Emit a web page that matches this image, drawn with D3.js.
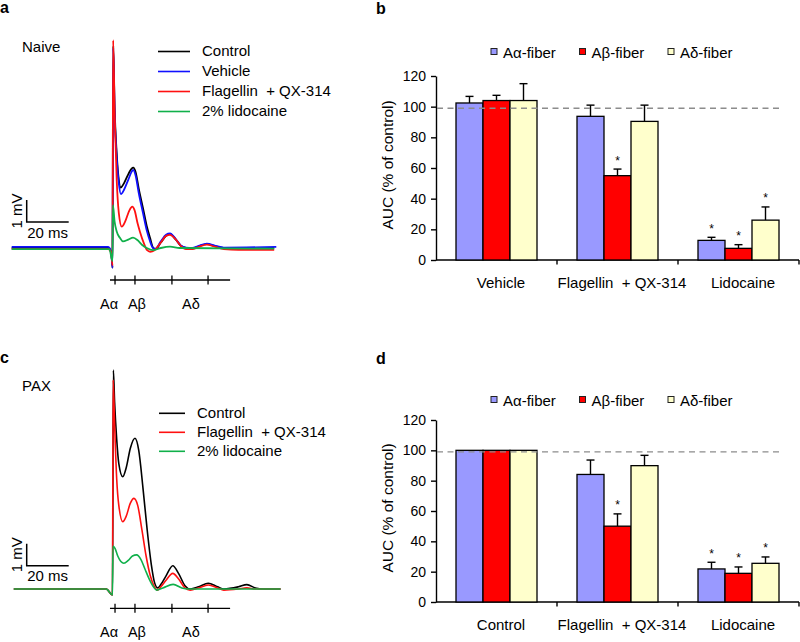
<!DOCTYPE html>
<html>
<head>
<meta charset="utf-8">
<script src="https://cdn.jsdelivr.net/npm/d3@7"></script>
<style>
  body { margin: 0; background: #fff; }
  svg { display: block; font-family: "Liberation Sans", Arial, sans-serif; }
  svg text { white-space: pre; }
</style>
</head>
<body>
<svg id="fig" width="800" height="642"></svg>
<script>
// ---------------- DATA ----------------
// Compound action potential traces: [time (ms from stimulus), amplitude (mV)]
const naiveControl = [[-48,0],[-2,0],[-0.6,-0.2],[0,-0.9],[0.35,9.2],[1,6.4],[2,4.3],[3,3.1],[3.9,2.75],[5.5,2.95],[7.5,3.35],[9,3.6],[9.9,3.65],[11,3.45],[12.5,2.7],[14.5,1.82],[16.3,1.0],[17.9,0.45],[19.3,0.02],[20.5,-0.05],[23,0.25],[25.5,0.55],[27.4,0.64],[30,0.4],[32.5,0.1],[35,0],[38,-0.02],[41,0.08],[44.9,0.18],[49,0.08],[53,0],[77,0]];
const naiveVehicle = [[-48,0.05],[-2,0.05],[-0.6,-0.2],[0,-0.9],[0.35,9.1],[1,6.2],[2,4.1],[3,2.95],[4,2.45],[5.5,2.65],[7.5,3.1],[9,3.45],[9.8,3.55],[11,3.3],[12.5,2.5],[14.5,1.6],[16.3,0.8],[17.9,0.3],[19.3,0],[20.5,-0.03],[23,0.3],[25.5,0.6],[27.4,0.66],[30,0.42],[32.5,0.12],[35,0.02],[38,0],[41,0.1],[44.9,0.2],[49,0.1],[53,0.02],[78,0.05]];
const naiveFlagellin = [[-48,-0.05],[-2,-0.05],[-0.6,-0.2],[0,-0.8],[0.3,9.45],[1,6.2],[2,3.1],[3,1.6],[4.4,0.97],[6,1.2],[8,1.7],[9.4,1.88],[10.5,1.72],[12,1.1],[13.1,0.73],[15,0.2],[16.5,-0.1],[17.9,-0.17],[20,-0.1],[23,0.25],[25.5,0.55],[27.4,0.6],[30,0.4],[32.5,0.1],[35,-0.05],[38,-0.05],[41,0.05],[45,0.15],[49,0.05],[53,-0.05],[60,-0.08],[77,-0.08]];
const naiveLidocaine = [[-48,-0.05],[-1.5,-0.05],[0,-0.6],[0.2,1.95],[1,1.2],[2,0.75],[3.6,0.45],[5,0.3],[7.5,0.38],[9.8,0.47],[12,0.35],[14,0.15],[16.3,0],[19.3,-0.1],[23,0],[27.4,0.06],[32,0],[77,-0.03]];

const paxControl = [[-47,0],[-3,0],[0,-0.27],[0.4,9.95],[1,8.5],[2,6.8],[3,5.7],[4.9,5.1],[6.5,5.5],[8.5,6.4],[10.7,6.85],[12.5,6.3],[14.5,4.6],[16.5,2.7],[18.5,1.1],[20,0.3],[21.5,0.05],[23,0.2],[25.5,0.6],[28.7,1.06],[31.5,0.7],[34.5,0.15],[37,0],[41,0.1],[45.6,0.26],[50,0.1],[53,0],[60,0.1],[64,0.2],[68,0.05],[72,0],[80,0]];
const paxFlagellin = [[-47,0],[-3,0],[0,-0.27],[0.3,9.5],[1,7.5],[2,5],[3,3.8],[4.9,3.06],[6.5,3.3],[8.5,3.9],[10.2,4.12],[12,3.8],[14,2.7],[16,1.5],[18,0.6],[20,0.1],[21.5,-0.05],[23,0.1],[25.5,0.4],[28.7,0.71],[31.5,0.45],[34.5,0.05],[37,-0.05],[41,0.05],[45.6,0.18],[50,0.05],[53,-0.05],[60,0],[64,0.05],[68,0],[80,0]];
const paxLidocaine = [[-47,0],[-3,0],[0,-0.27],[0.2,1.95],[1.2,1.85],[2.5,1.5],[4,1.25],[5.4,1.17],[7.5,1.3],[9.5,1.5],[11.5,1.55],[13.5,1.35],[15.5,0.9],[17.5,0.45],[19.5,0.1],[21,-0.05],[24,0.05],[28.9,0.21],[33,0.05],[36,0],[80,0]];

const naiveLegend = ["Control", "Vehicle", "Flagellin  + QX-314", "2% lidocaine"];
const paxLegend = ["Control", "Flagellin  + QX-314", "2% lidocaine"];
const fiberMarks = [1.2, 10.7, 28.3, 45.5];           // ms
const fiberLabels = ["Aα", "Aβ", "Aδ"];

// Bar charts
const fibers = ["Aα-fiber", "Aβ-fiber", "Aδ-fiber"];
const yTicks = [0, 20, 40, 60, 80, 100, 120];
const bCategories = ["Vehicle", "Flagellin  + QX-314", "Lidocaine"];
const bAlpha = [102.4, 93.7, 12.8];
const bBeta = [104, 55, 7.6];
const bDelta = [104, 90.4, 26];
const bAlphaErr = [4.3, 7.3, 2.0];
const bBetaErr = [3.4, 4.3, 2.4];
const bDeltaErr = [11, 10.6, 8.6];
const bAlphaSig = [0, 0, 1];
const bBetaSig = [0, 1, 1];
const bDeltaSig = [0, 0, 1];

const dCategories = ["Control", "Flagellin  + QX-314", "Lidocaine"];
const dAlpha = [100, 84.1, 21.8];
const dBeta = [100, 50, 18.9];
const dDelta = [100, 89.9, 25.5];
const dAlphaErr = [0, 9.5, 4.4];
const dBetaErr = [0, 8.1, 4.2];
const dDeltaErr = [0, 6.8, 4.2];
const dAlphaSig = [0, 0, 1];
const dBetaSig = [0, 1, 1];
const dDeltaSig = [0, 0, 1];
const controlLevel = 99;

// ---------------- STYLE ----------------
const traceColors = { Control: "#000000", Vehicle: "#1010ff", Flag: "#ff1010", Lido: "#10b04a" };
const fiberColors = ["#9999ff", "#ff0000", "#ffffcc"];

const svg = d3.select("#fig");

// panel letters
[["a", 0, 13], ["b", 376, 14], ["c", 0, 363], ["d", 376, 364]].forEach(([t, x, y]) => {
  svg.append("text").attr("x", x).attr("y", y).attr("font-size", 16).attr("font-weight", "bold").text(t);
});

// ---------------- TRACE PANELS ----------------
function tracePanel(opts) {
  const g = svg.append("g");
  const x = d3.scaleLinear().domain([0, 20]).range([112.5, 154.5]);
  const y = d3.scaleLinear().domain([0, 1]).range([opts.base, opts.base - 22]);
  const line = d3.line().x(d => x(d[0])).y(d => y(d[1])).curve(d3.curveMonotoneX);

  opts.traces.forEach(tr => {
    g.append("path").datum(tr.data).attr("d", line)
      .attr("fill", "none").attr("stroke", tr.color).attr("stroke-width", opts.lw)
      .attr("stroke-linejoin", "round");
  });

  // title
  g.append("text").attr("x", 22).attr("y", opts.titleY).attr("font-size", 15).text(opts.title);

  // legend
  opts.traces.forEach((tr, i) => {
    const ly = opts.legY + i * opts.legStep;
    g.append("line").attr("x1", opts.legX).attr("x2", opts.legX + opts.legLen)
      .attr("y1", ly).attr("y2", ly).attr("stroke", tr.color).attr("stroke-width", 1.6);
    g.append("text").attr("x", opts.legX + opts.legLen + 12).attr("y", ly + 4.5)
      .attr("font-size", 15).text(tr.label);
  });

  // scale bar: 1 mV / 20 ms
  const sx = 26.7, sy = opts.scaleY;
  const w20 = x(20) - x(0), h1 = y(0) - y(1);
  g.append("path").attr("d", `M${sx},${sy - h1}V${sy}H${sx + w20}`)
    .attr("fill", "none").attr("stroke", "#000").attr("stroke-width", 1.5);
  g.append("text").attr("x", sx + w20 / 2).attr("y", sy + 15.5).attr("text-anchor", "middle")
    .attr("font-size", 15).text("20 ms");
  g.append("text").attr("transform", `translate(${sx - 5},${sy - h1 / 2}) rotate(-90)`)
    .attr("text-anchor", "middle").attr("font-size", 15).text("1 mV");

  // fiber ruler
  const ry = opts.rulerY;
  g.append("line").attr("x1", x(-1.2)).attr("x2", x(56)).attr("y1", ry).attr("y2", ry)
    .attr("stroke", "#000").attr("stroke-width", 1.3);
  fiberMarks.forEach(m => {
    g.append("line").attr("x1", x(m)).attr("x2", x(m)).attr("y1", ry - 4.5).attr("y2", ry + 4.5)
      .attr("stroke", "#000").attr("stroke-width", 1.3);
  });
  const labelPos = [x(fiberMarks[0]) - 6, x(fiberMarks[1]) + 2, (x(fiberMarks[2]) + x(fiberMarks[3])) / 2 + 1];
  fiberLabels.forEach((l, i) => {
    g.append("text").attr("x", labelPos[i]).attr("y", ry + 28.5).attr("text-anchor", "middle")
      .attr("font-size", 14.5).text(l);
  });
}

tracePanel({
  base: 248, title: "Naive", titleY: 51.5, lw: 1.8,
  legX: 158, legLen: 32, legY: 51.5, legStep: 20,
  scaleY: 222, rulerY: 280,
  traces: [
    { data: naiveControl, color: traceColors.Control, label: naiveLegend[0] },
    { data: naiveVehicle, color: traceColors.Vehicle, label: naiveLegend[1] },
    { data: naiveFlagellin, color: traceColors.Flag, label: naiveLegend[2] },
    { data: naiveLidocaine, color: traceColors.Lido, label: naiveLegend[3] }
  ]
});

tracePanel({
  base: 589, title: "PAX", titleY: 391, lw: 1.6,
  legX: 159, legLen: 26, legY: 413.3, legStep: 19,
  scaleY: 565.7, rulerY: 608.3,
  traces: [
    { data: paxControl, color: traceColors.Control, label: paxLegend[0] },
    { data: paxFlagellin, color: traceColors.Flag, label: paxLegend[1] },
    { data: paxLidocaine, color: traceColors.Lido, label: paxLegend[2] }
  ]
});

// ---------------- BAR PANELS ----------------
function barPanel(opts) {
  const g = svg.append("g");
  const y = d3.scaleLinear().domain([0, 120]).range([opts.y0, opts.y120]);
  const x = d3.scaleBand().domain(opts.categories).range([436, 799]);
  const xs = d3.scaleBand().domain(fibers).range([20, 101]);

  const series = [
    { fiber: fibers[0], vals: opts.alpha, err: opts.alphaErr, sig: opts.alphaSig, color: fiberColors[0] },
    { fiber: fibers[1], vals: opts.beta, err: opts.betaErr, sig: opts.betaSig, color: fiberColors[1] },
    { fiber: fibers[2], vals: opts.delta, err: opts.deltaErr, sig: opts.deltaSig, color: fiberColors[2] }
  ];

  // y axis
  const yAxis = d3.axisLeft(y).tickValues(yTicks).tickSize(5).tickPadding(5).tickSizeOuter(0);
  const ya = g.append("g").attr("transform", "translate(436,0)").call(yAxis);
  ya.selectAll("text").attr("font-size", 14).attr("font-family", "Liberation Sans, Arial, sans-serif").attr("fill", "#000");
  ya.selectAll("line,path").attr("stroke", "#000").attr("stroke-width", 1.4);

  // x axis
  g.append("line").attr("x1", 436).attr("x2", 799).attr("y1", y(0)).attr("y2", y(0))
    .attr("stroke", "#000").attr("stroke-width", 1.4);
  opts.categories.forEach(c => {
    const xe = x(c) + x.bandwidth();
    g.append("line").attr("x1", xe).attr("x2", xe).attr("y1", y(0)).attr("y2", y(0) + 4.5)
      .attr("stroke", "#000").attr("stroke-width", 1.4);
    g.append("text").attr("x", x(c) + x.bandwidth() / 2 + 4.5).attr("y", y(0) + 27.5)
      .attr("text-anchor", "middle").attr("font-size", 15).text(c);
  });

  // y label
  g.append("text").attr("transform", `translate(393,${(y(0) + y(120)) / 2 - 3}) rotate(-90)`)
    .attr("text-anchor", "middle").attr("font-size", 15.5).text("AUC (% of control)");

  // bars
  series.forEach(s => {
    opts.categories.forEach((c, i) => {
      const bx = x(c) + xs(s.fiber), bw = xs.bandwidth();
      const top = y(s.vals[i]);
      if (s.err[i] > 0) {
        const et = y(s.vals[i] + s.err[i]);
        g.append("line").attr("x1", bx + bw / 2).attr("x2", bx + bw / 2).attr("y1", top).attr("y2", et)
          .attr("stroke", "#000").attr("stroke-width", 1.4);
        g.append("line").attr("x1", bx + bw / 2 - 4).attr("x2", bx + bw / 2 + 4).attr("y1", et).attr("y2", et)
          .attr("stroke", "#000").attr("stroke-width", 1.4);
      }
      g.append("rect").attr("x", bx).attr("y", top).attr("width", bw).attr("height", y(0) - top)
        .attr("fill", s.color).attr("stroke", "#000").attr("stroke-width", 1.3);
      if (s.sig[i]) {
        g.append("text").attr("x", bx + bw / 2).attr("y", y(s.vals[i] + s.err[i]) - 4.5)
          .attr("text-anchor", "middle").attr("font-size", 12).text("*");
      }
    });
  });

  // control reference dashed line
  g.append("line").attr("x1", 437).attr("x2", 782).attr("y1", y(controlLevel)).attr("y2", y(controlLevel))
    .attr("stroke", "#8c8c8c").attr("stroke-width", 1.4).attr("stroke-dasharray", "6,4.5");

  // legend
  const lx = [491, 579.5, 668], ly = opts.legY;
  fibers.forEach((f, i) => {
    g.append("rect").attr("x", lx[i]).attr("y", ly - 4).attr("width", 6).attr("height", 6)
      .attr("fill", fiberColors[i]).attr("stroke", "#222").attr("stroke-width", 1);
    g.append("text").attr("x", lx[i] + 12).attr("y", ly + 5.5).attr("font-size", 15).text(f);
  });
}

barPanel({
  y0: 260, y120: 76, legY: 52.5, categories: bCategories,
  alpha: bAlpha, beta: bBeta, delta: bDelta,
  alphaErr: bAlphaErr, betaErr: bBetaErr, deltaErr: bDeltaErr,
  alphaSig: bAlphaSig, betaSig: bBetaSig, deltaSig: bDeltaSig
});

barPanel({
  y0: 602, y120: 420, legY: 400.5, categories: dCategories,
  alpha: dAlpha, beta: dBeta, delta: dDelta,
  alphaErr: dAlphaErr, betaErr: dBetaErr, deltaErr: dDeltaErr,
  alphaSig: dAlphaSig, betaSig: dBetaSig, deltaSig: dDeltaSig
});
</script>
</body>
</html>
